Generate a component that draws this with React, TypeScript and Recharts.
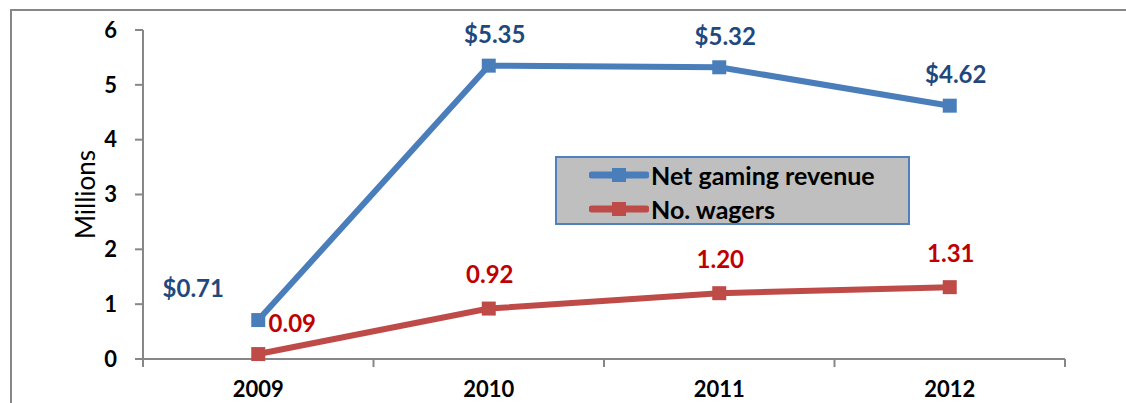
import React from 'react';
import { LineChart, Line, XAxis, YAxis, Legend, LabelList, Label } from 'recharts';

const years = ['2009', '2010', '2011', '2012'];
const revenue = [0.71, 5.35, 5.32, 4.62];
const wagers = [0.09, 0.92, 1.2, 1.31];
const revenueLabels = ['$0.71', '$5.35', '$5.32', '$4.62'];
const wagerLabels = ['0.09', '0.92', '1.20', '1.31'];
const yTicks = [0, 1, 2, 3, 4, 5, 6];
const seriesNames = ['Net gaming revenue', 'No. wagers'];

const data = years.map((y, i) => ({ year: y, revenue: revenue[i], wagers: wagers[i] }));

const FONT = 'Lato, "Open Sans", sans-serif';
const BLUE = '#4a7ebb';
const RED = '#be4b48';
const BLUE_TXT = '#1f497d';
const RED_TXT = '#c00000';
const AXIS = '#878787';

const W = 1126;
const H = 403;
const M = { top: 30, right: 61, bottom: 0, left: 0 };
const Y_W = 143;
const X_H = 44;
const PLOT_W = W - M.left - M.right - Y_W;
const PLOT_BOTTOM = H - M.bottom - X_H;
const HALF_BAND = PLOT_W / years.length / 2;

const revLabel = (props: any) => {
  const { x, y, index } = props;
  let dx = 6;
  let dy = -32;
  if (index === 0) { dx = -65; dy = -33; }
  return (
    <text x={x + dx} y={y + dy} textAnchor="middle" dominantBaseline="central"
      fill={BLUE_TXT} fontFamily={FONT} fontWeight={700} fontSize={24}>
      {revenueLabels[index]}
    </text>
  );
};

const wagLabel = (props: any) => {
  const { x, y, index } = props;
  let dx = 1;
  let dy = -35;
  if (index === 0) { dx = 34; dy = -32; }
  return (
    <text x={x + dx} y={y + dy} textAnchor="middle" dominantBaseline="central"
      fill={RED_TXT} fontFamily={FONT} fontWeight={700} fontSize={24}>
      {wagerLabels[index]}
    </text>
  );
};

const SquareDot = (color: string) => (props: any) => {
  const { cx, cy } = props;
  if (cx == null || cy == null) return null;
  return <rect x={cx - 7} y={cy - 7} width={14} height={14} fill={color} />;
};

const CatTick = (props: any) => {
  const { x, y, payload, index } = props;
  const i = payload && payload.index != null ? payload.index : index;
  const last = i === years.length - 1;
  return (
    <g>
      <line x1={x - HALF_BAND} x2={x - HALF_BAND} y1={PLOT_BOTTOM} y2={PLOT_BOTTOM + 8} stroke={AXIS} strokeWidth={2} />
      {last && <line x1={x + HALF_BAND} x2={x + HALF_BAND} y1={PLOT_BOTTOM} y2={PLOT_BOTTOM + 8} stroke={AXIS} strokeWidth={2} />}
      <text x={x} y={y} dy="0.71em" textAnchor="middle" fill="#000" fontFamily={FONT} fontWeight={700} fontSize={22}>
        {payload.value}
      </text>
    </g>
  );
};

const LegendBox = () => {
  const colors = [BLUE, RED];
  return (
    <div style={{
      width: 355, height: 69, boxSizing: 'border-box', background: '#bfbfbf',
      border: '2px solid #4f81bd', position: 'relative',
    }}>
      {seriesNames.map((n, i) => (
        <div key={n} style={{ position: 'absolute', left: 32, top: 2 + i * 34, height: 30, display: 'flex', alignItems: 'center' }}>
          <svg width={60} height={16} style={{ display: 'block' }}>
            <line x1={3} y1={8} x2={57} y2={8} stroke={colors[i]} strokeWidth={7} strokeLinecap="round" />
            <rect x={23} y={1} width={14} height={14} fill={colors[i]} />
          </svg>
          <span style={{ fontFamily: FONT, fontWeight: 700, fontSize: 25, color: '#000', marginLeft: 2, lineHeight: '30px' }}>{n}</span>
        </div>
      ))}
    </div>
  );
};

export default function App() {
  return (
    <div style={{ position: 'absolute', left: 0, top: 0, width: W, height: H, background: '#fff', overflow: 'hidden' }}>
      <div style={{ position: 'absolute', left: 10, top: 9, width: 1200, height: 500, borderLeft: `2px solid ${AXIS}`, borderTop: `2px solid ${AXIS}` }} />
      <div style={{ position: 'absolute', left: 0, top: 0 }}>
        <LineChart width={W} height={H} data={data} margin={M}>
          <XAxis dataKey="year" height={X_H} padding={{ left: HALF_BAND, right: HALF_BAND }}
            axisLine={{ stroke: AXIS, strokeWidth: 2 }} tickLine={false} tickSize={6} tickMargin={16}
            tick={CatTick} interval={0} />
          <YAxis width={Y_W} domain={[0, 6]} ticks={yTicks} interval={0} tickSize={8} tickMargin={18}
            axisLine={{ stroke: AXIS, strokeWidth: 2 }} tickLine={{ stroke: AXIS, strokeWidth: 2 }}
            tick={{ fill: '#000', fontFamily: FONT, fontWeight: 700, fontSize: 22 }}>
            <Label content={(p: any) => {
              const vb = p.viewBox;
              const cy = vb.y + vb.height / 2;
              return (
                <text x={85} y={cy} transform={`rotate(-90 85 ${cy})`} textAnchor="middle" dominantBaseline="central"
                  fontFamily={FONT} fontSize={26} fill="#000">Millions</text>
              );
            }} />
          </YAxis>
          <Legend layout="vertical" align="center" verticalAlign="middle"
            wrapperStyle={{ position: 'absolute', left: 555, top: 156, width: 355, height: 69 }}
            content={() => <LegendBox />} />
          <Line dataKey="revenue" name={seriesNames[0]} stroke={BLUE} strokeWidth={6}
            dot={SquareDot(BLUE)} activeDot={false} isAnimationActive={false}>
            <LabelList dataKey="revenue" content={revLabel} />
          </Line>
          <Line dataKey="wagers" name={seriesNames[1]} stroke={RED} strokeWidth={6}
            dot={SquareDot(RED)} activeDot={false} isAnimationActive={false}>
            <LabelList dataKey="wagers" content={wagLabel} />
          </Line>
        </LineChart>
      </div>
    </div>
  );
}
